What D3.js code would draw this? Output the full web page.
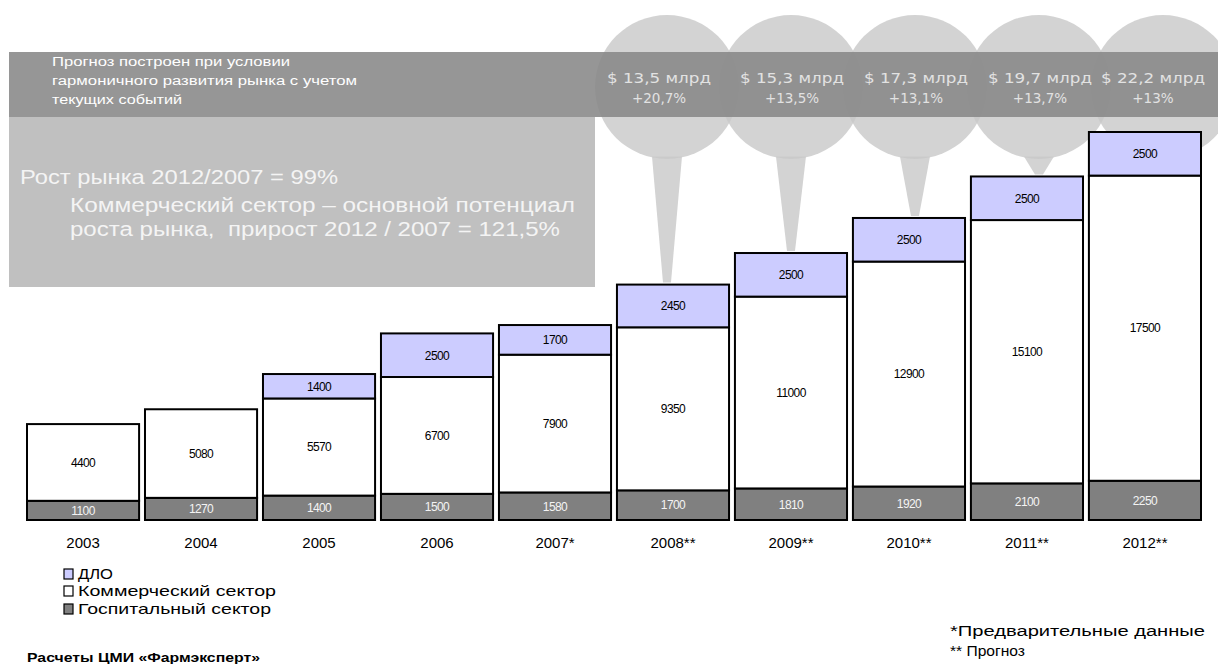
<!DOCTYPE html>
<html><head><meta charset="utf-8">
<script src="https://cdn.jsdelivr.net/npm/d3@7/dist/d3.min.js"></script>
<style>body{margin:0;background:#fff}svg{display:block}</style>
</head><body>
<svg id="chart" width="1218" height="664"></svg>
<script>
const years = ["2003","2004","2005","2006","2007","2008","2009","2010","2011","2012"];
const yearLabels = ["2003","2004","2005","2006","2007*","2008**","2009**","2010**","2011**","2012**"];
const hospital = [1100,1270,1400,1500,1580,1700,1810,1920,2100,2250];
const commercial = [4400,5080,5570,6700,7900,9350,11000,12900,15100,17500];
const dlo = [0,0,1400,2500,1700,2450,2500,2500,2500,2500];
const forecastYears = ["2008","2009","2010","2011","2012"];
const marketSize = ["$ 13,5 млрд","$ 15,3 млрд","$ 17,3 млрд","$ 19,7 млрд","$ 22,2 млрд"];
const growth = ["+20,7%","+13,5%","+13,1%","+13,7%","+13%"];
const seriesNames = ["ДЛО","Коммерческий сектор","Госпитальный сектор"];
const noteLines = ["Прогноз построен при условии","гармоничного развития рынка с учетом","текущих событий"];
const boxLines = ["Рост рынка 2012/2007 = 99%","Коммерческий сектор – основной потенциал","роста рынка,  прирост 2012 / 2007 = 121,5%"];
const footnotes = ["*Предварительные данные","** Прогноз"];
const source = "Расчеты ЦМИ «Фармэксперт»";

const svg = d3.select("#chart");
const rows = years.map((y,i)=>({year:y, hospital:hospital[i], commercial:commercial[i], dlo:dlo[i]}));
const keys = ["hospital","commercial","dlo"];
const fills = {hospital:"#808080", commercial:"#ffffff", dlo:"#ccccff"};
const labelColor = {hospital:"#f4f4f4", commercial:"#000", dlo:"#000"};

const x = d3.scaleBand().domain(years).range([27,1201]).paddingInner(0.05).paddingOuter(0);
const y = d3.scaleLinear().domain([0,22250]).range([520,132]);
const stack = d3.stack().keys(keys)(rows);
const totals = rows.map(r=>r.hospital+r.commercial+r.dlo);

// decorative circles with stems
const R = 72, cy = 87;
const circG = svg.append("g");
forecastYears.forEach((yr,i)=>{
  const idx = years.indexOf(yr);
  const cx = x(yr) + x.bandwidth()/2 + (i-1)*6;
  const tip = y(totals[idx]) - 2;
  const topY = cy + Math.sqrt(R*R - 15*15) - 1;
  if (tip > cy + R) {
    circG.append("path")
      .attr("d", `M${cx-15},${topY} L${cx+15},${topY} L${cx+4},${tip} L${cx-4},${tip} Z`)
      .attr("fill","#d3d3d3");
  }
});
forecastYears.forEach((yr,i)=>{
  const cx = x(yr) + x.bandwidth()/2 + (i-1)*6;
  circG.append("circle").attr("cx",cx).attr("cy",cy).attr("r",R)
    .attr("fill","#c8c8c8").attr("fill-opacity",0.8);
});

// light gray box
svg.append("rect").attr("x",9).attr("y",117).attr("width",586).attr("height",170).attr("fill","#c0c0c0");
// dark band
svg.append("rect").attr("x",9).attr("y",52).attr("width",1209).attr("height",65)
  .attr("fill","#888888").attr("fill-opacity",0.886);

// band note text
const noteW = [238,305,130];
noteLines.forEach((t,i)=>{
  svg.append("text").attr("x",52).attr("y",66+i*19).text(t)
    .attr("font-family","Liberation Sans, Arial, sans-serif").attr("font-size",12.5)
    .attr("fill","#ffffff").attr("textLength",noteW[i]).attr("lengthAdjust","spacingAndGlyphs");
});

// band forecast texts
const txtOff = [-8,1,1,1,-10];
forecastYears.forEach((yr,i)=>{
  const cx = x(yr) + x.bandwidth()/2 + (i-1)*6 + txtOff[i];
  svg.append("text").attr("x",cx).attr("y",83).attr("text-anchor","middle").text(marketSize[i])
    .attr("font-family","DejaVu Sans, Verdana, sans-serif").attr("font-size",13.5).attr("fill","#e2e2e2")
    .attr("textLength",104).attr("lengthAdjust","spacingAndGlyphs");
  svg.append("text").attr("x",cx).attr("y",103).attr("text-anchor","middle").text(growth[i])
    .attr("font-family","DejaVu Sans, Verdana, sans-serif").attr("font-size",13.5).attr("fill","#e2e2e2");
});

// box text
const boxX = [20,70,70], boxY = [184,212,236], boxW = [318,505,490];
boxLines.forEach((t,i)=>{
  svg.append("text").attr("x",boxX[i]).attr("y",boxY[i]).text(t)
    .attr("font-family","Liberation Sans, Arial, sans-serif").attr("font-size",20)
    .attr("fill","#f4f4f4").attr("textLength",boxW[i]).attr("lengthAdjust","spacingAndGlyphs")
    .attr("xml:space","preserve").style("white-space","pre");
});

// bars
const barG = svg.append("g");
stack.forEach(layer=>{
  const k = layer.key;
  layer.forEach((d,i)=>{
    if (d[1]-d[0] <= 0) return;
    barG.append("rect")
      .attr("x",x(years[i])).attr("width",x.bandwidth())
      .attr("y",y(d[1])).attr("height",y(d[0])-y(d[1]))
      .attr("fill",fills[k]).attr("stroke","#000").attr("stroke-width",2);
  });
});
stack.forEach(layer=>{
  const k = layer.key;
  layer.forEach((d,i)=>{
    const v = d[1]-d[0];
    if (v <= 0) return;
    barG.append("text")
      .attr("x",x(years[i])+x.bandwidth()/2).attr("y",(y(d[0])+y(d[1]))/2)
      .attr("dy","0.36em").attr("text-anchor","middle")
      .attr("font-family","Liberation Sans, Arial, sans-serif").attr("font-size",12)
      .attr("letter-spacing",-0.6).attr("fill",labelColor[k]).text(v);
  });
});

// x axis labels
const xAxis = d3.axisBottom(x).tickSize(0).tickPadding(0).tickFormat((d,i)=>yearLabels[i]);
const ax = svg.append("g").attr("transform","translate(0,537)").call(xAxis);
ax.select(".domain").remove();
ax.selectAll("text").attr("font-family","Liberation Sans, Arial, sans-serif").attr("font-size",15).attr("fill","#000").attr("dy","0.71em");

// legend
const legY = [579,596,614];
const legFill = ["#ccccff","#ffffff","#808080"];
const legW = [35,198,193];
seriesNames.forEach((n,i)=>{
  svg.append("rect").attr("x",64).attr("y",legY[i]-10).attr("width",9).attr("height",10)
    .attr("fill",legFill[i]).attr("stroke","#000").attr("stroke-width",1.2);
  svg.append("text").attr("x",78).attr("y",legY[i]).text(n)
    .attr("font-family","Liberation Sans, Arial, sans-serif").attr("font-size",14.5).attr("fill","#000")
    .attr("textLength",legW[i]).attr("lengthAdjust","spacingAndGlyphs");
});

// source
svg.append("text").attr("x",27).attr("y",662).text(source)
  .attr("font-family","Liberation Sans, Arial, sans-serif").attr("font-size",12).attr("font-weight","bold")
  .attr("fill","#000").attr("textLength",233).attr("lengthAdjust","spacingAndGlyphs");

// footnotes
const fnW = [255,75];
footnotes.forEach((t,i)=>{
  svg.append("text").attr("x",950).attr("y",636+i*20).text(t)
    .attr("font-family","Liberation Sans, Arial, sans-serif").attr("font-size",14).attr("fill","#000")
    .attr("textLength",fnW[i]).attr("lengthAdjust","spacingAndGlyphs");
});
</script>
</body></html>
